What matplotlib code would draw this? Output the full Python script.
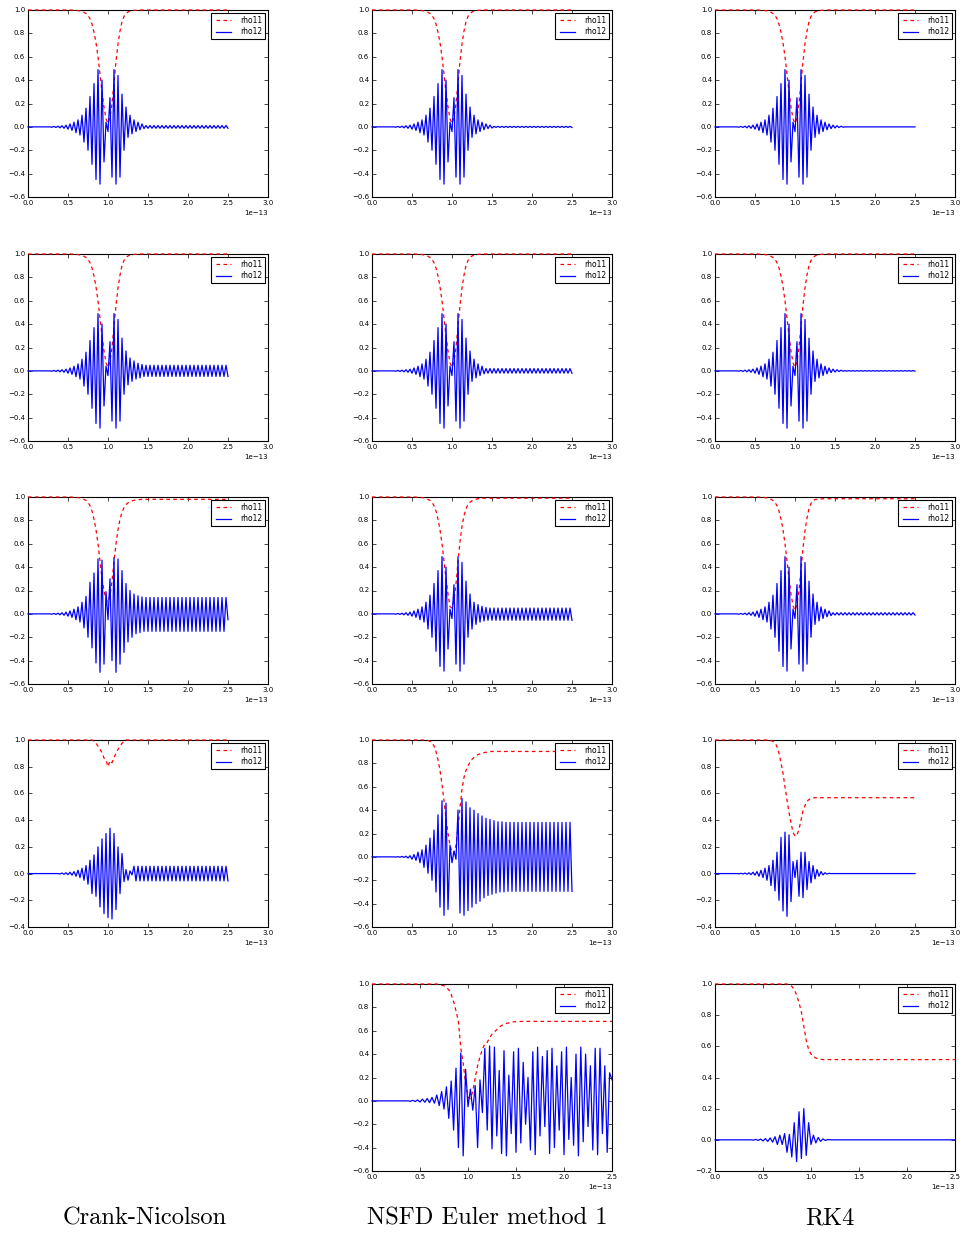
#!/usr/bin/env python3
"""
rho11 / rho12 pour trois schemas (Crank-Nicolson, NSFD Euler, RK4)
"""

import numpy as np
import matplotlib
matplotlib.use("Agg")
import matplotlib.pyplot as plt

# grille temporelle (unite 1e-13 s), pas = demi-periode de la porteuse
t_step = 0.025
n_pts = 101
t = np.arange(n_pts) * t_step

# ---- rho12 : valeurs des extremums ----
# impulsion "ideale" de k=12 (t=0.30) a k=64 (t=1.60)
ideal12 = [-0.003, 0.004, -0.005, 0.006, -0.008, 0.010, -0.012, 0.015,
           -0.020, 0.025, -0.030, 0.040, -0.050, 0.060, -0.070, 0.100,
           -0.130, 0.160, -0.200, 0.260, -0.320, 0.370, -0.450, 0.490,
           -0.490, 0.400, -0.300, 0.040, -0.040, 0.250, -0.430, 0.490,
           -0.490, 0.440, -0.430, 0.280, -0.200, 0.170, -0.090, 0.100,
           -0.060, 0.060, -0.040, 0.040, -0.025, 0.025, -0.015, 0.015,
           -0.010, 0.010, -0.006, 0.006, -0.003]
# rho11 ideal de k=22 (t=0.55) a k=55
ideal11 = [0.999, 0.998, 0.997, 0.995, 0.992, 0.988, 0.98, 0.97, 0.955, 0.925,
           0.88, 0.81, 0.72, 0.60, 0.45, 0.30, 0.17, 0.07, 0.03, 0.08,
           0.20, 0.38, 0.56, 0.71, 0.82, 0.90, 0.945, 0.97, 0.983, 0.99,
           0.995, 0.997, 0.998, 0.999]

# Crank-Nicolson
cn2_decay = [-0.12, 0.11, -0.09, 0.085, -0.07, 0.065, -0.06, 0.055]
cn3_mid = [-0.12, 0.15, -0.20, 0.27, -0.29, 0.35, -0.42, 0.47, -0.50, 0.46,
           -0.43, 0.19, -0.05, 0.30, -0.40, 0.48, -0.50, 0.47, -0.43, 0.37,
           -0.33, 0.26, -0.24, 0.20, -0.20, 0.17, -0.17, 0.155, -0.16, 0.145]
cn3_end = -0.05
cn3_rho11 = [0.20, 0.12, 0.10, 0.16, 0.28, 0.45, 0.60, 0.72, 0.81, 0.87,
             0.91, 0.935, 0.95, 0.96, 0.967, 0.972, 0.975, 0.977, 0.978]
cn4_rho12 = [-0.003, 0.004, -0.005, 0.006, -0.008, 0.010, -0.012, 0.015,
             -0.020, 0.025, -0.030, 0.040, -0.050, 0.060, -0.080, 0.100,
             -0.150, 0.140, -0.170, 0.200, -0.250, 0.260, -0.300, 0.300,
             -0.330, 0.340, -0.340, 0.300, -0.270, 0.200, -0.150, 0.150,
             -0.060, 0.030, -0.050, 0.020, -0.010]
cn4_rho11 = [0.99, 0.975, 0.955, 0.93, 0.905, 0.865, 0.85, 0.80, 0.845, 0.83,
             0.87, 0.90, 0.93, 0.955, 0.975, 0.99]

# NSFD Euler methode 1
nsfd3_decay = [-0.13, 0.10, -0.09, 0.08, -0.07, 0.065, -0.06, 0.055]
nsfd3_rho11 = [0.06, 0.05, 0.12, 0.26, 0.44, 0.62, 0.75, 0.84, 0.90, 0.935,
               0.955, 0.968, 0.976, 0.981, 0.985, 0.987, 0.989]
nsfd4_rho12 = [-0.002, 0.002, -0.003, 0.004, -0.005, 0.006, -0.01, 0.01,
               -0.02, 0.02, -0.03, 0.04, -0.05, 0.06, -0.09, 0.10,
               -0.14, 0.16, -0.20, 0.23, -0.30, 0.36, -0.43,
               0.48, -0.50, 0.46, -0.45, 0.10, -0.05, 0.05, -0.02,
               0.40, -0.48, 0.50, -0.50, 0.47, -0.46, 0.42, -0.43, 0.40, -0.40,
               0.37, -0.38, 0.35, -0.35, 0.33, -0.33, 0.32, -0.32, 0.31, -0.31,
               0.30, -0.30, 0.30, -0.30]
nsfd4_rho11 = [0.995, 0.99, 0.975, 0.95, 0.90, 0.83, 0.74, 0.62, 0.48, 0.33,
               0.20, 0.10, 0.04, 0.03, 0.10, 0.25, 0.42, 0.58, 0.68, 0.74,
               0.78, 0.81, 0.835, 0.85, 0.865, 0.875, 0.882, 0.888, 0.892,
               0.895, 0.898, 0.90]
nsfd5_rho12 = [-0.003, 0.005, -0.006, 0.008, -0.01, 0.015, -0.012, 0.02,
               -0.015, 0.03, -0.02, 0.05,
               -0.04, 0.08, -0.07, 0.12, -0.15, 0.17, -0.25, 0.28,
               -0.40, 0.41, -0.47, 0.27, -0.05, 0.10, -0.08, 0.13,
               -0.40, 0.18, -0.10, 0.45, -0.25, 0.47, -0.41, 0.46, -0.30, 0.26, -0.45, 0.43,
               -0.47, 0.22, -0.28, 0.42, -0.44, 0.45, -0.36, 0.33, -0.20, 0.20, -0.42, 0.42,
               -0.46, 0.46, -0.30, 0.38, -0.22, 0.43, -0.45, 0.45, -0.40, 0.30, -0.25, 0.42,
               -0.46, 0.46, -0.33, 0.20, -0.38, 0.40, -0.47, 0.46, -0.35, 0.40, -0.22, 0.30,
               -0.42, 0.45, -0.46, 0.45, -0.28, 0.30, -0.44, 0.24, 0.18]
nsfd5_rho11 = [0.995, 0.99, 0.985, 0.97, 0.95, 0.91, 0.85, 0.77, 0.68, 0.45,
               0.32, 0.15, 0.03, 0.02, 0.08, 0.20, 0.30, 0.38, 0.44, 0.49,
               0.50, 0.54, 0.57, 0.59, 0.61, 0.63, 0.645, 0.655, 0.662, 0.668,
               0.672, 0.676, 0.678]

# RK4
rk3_rho11 = [0.978, 0.981, 0.983, 0.984]
rk4_rho12 = [-0.002, 0.002, -0.003, 0.004, -0.005, 0.006, -0.008, 0.01,
             -0.012, 0.015, -0.02, 0.025, -0.03, 0.04, -0.05, 0.06,
             -0.09, 0.10, -0.13, 0.16, -0.20, 0.27, -0.28, 0.31, -0.32, 0.29,
             -0.21, 0.09, -0.03, 0.10, -0.17, 0.16, -0.18, 0.16, -0.12, 0.09,
             -0.07, 0.06, -0.04, 0.03, -0.02, 0.015, -0.01, 0.006, -0.004, 0.002]
rk4_rho11 = [0.995, 0.99, 0.98, 0.95, 0.90, 0.83, 0.75, 0.65, 0.55, 0.46,
             0.38, 0.31, 0.28, 0.29, 0.33, 0.40, 0.47, 0.51, 0.54, 0.555,
             0.562, 0.566]
rk5_rho12 = [-0.002, 0.003, -0.004, 0.005, -0.007, 0.008, -0.01, 0.012, -0.015,
             0.02, -0.03, 0.03, -0.03, 0.04, -0.08, 0.035, -0.11, 0.11, -0.14,
             0.18, -0.12, 0.20, -0.10, 0.11, -0.03, 0.03, -0.02, 0.015, -0.01,
             0.006, -0.004, 0.002]
rk5_rho11 = [0.995, 0.985, 0.965, 0.93, 0.88, 0.82, 0.73, 0.64, 0.58, 0.55,
             0.535, 0.525, 0.52, 0.517]

col_titles = ["Crank-Nicolson", "NSFD Euler method 1", "RK4"]


def series(start, body, pre, tail):
    """pre avant start, puis body, puis tail=(pos, neg) selon la parite"""
    vals = [pre] * start + list(body)
    while len(vals) < n_pts:
        k = len(vals)
        vals.append(tail[0] if k % 2 else tail[1])
    return np.array(vals[:n_pts])


def flat11(start, body, final):
    return series(start, body, 1.0, (final, final))


cn3 = series(12, ideal12[:16] + cn3_mid, 0.0, (0.14, -0.15))
cn3[-1] = cn3_end

panels = {
    # (col, row): (rho11, rho12, xmax, ymin)
    (0, 0): (flat11(22, ideal11, 1.0), series(12, ideal12[:47], 0.0, (0.012, -0.012)), 3.0, -0.6),
    (0, 1): (flat11(22, ideal11, 1.0), series(12, ideal12[:38] + cn2_decay, 0.0, (0.048, -0.048)), 3.0, -0.6),
    (0, 2): (flat11(22, ideal11[:16] + cn3_rho11, 0.98), cn3, 3.0, -0.6),
    (0, 3): (flat11(33, cn4_rho11, 1.0), series(16, cn4_rho12, 0.0, (0.055, -0.055)), 3.0, -0.4),
    (1, 0): (flat11(22, ideal11, 1.0), series(12, ideal12[:49], 0.0, (0.005, -0.005)), 3.0, -0.6),
    (1, 1): (flat11(22, ideal11, 1.0), series(12, ideal12[:45], 0.0, (0.02, -0.02)), 3.0, -0.6),
    (1, 2): (flat11(22, ideal11[:17] + nsfd3_rho11, 0.99), series(12, ideal12[:38] + nsfd3_decay, 0.0, (0.05, -0.055)), 3.0, -0.6),
    (1, 3): (flat11(28, nsfd4_rho11, 0.902), series(12, nsfd4_rho12, 0.0, (0.295, -0.295)), 3.0, -0.6),
    (1, 4): (flat11(28, nsfd5_rho11, 0.68), series(16, nsfd5_rho12, 0.0, (0.0, 0.0)), 2.5, -0.6),
    (2, 0): (flat11(22, ideal11, 1.0), series(12, ideal12, 0.0, (0.0, 0.0)), 3.0, -0.6),
    (2, 1): (flat11(22, ideal11, 1.0), series(12, ideal12, 0.0, (0.002, -0.002)), 3.0, -0.6),
    (2, 2): (flat11(22, ideal11[:28] + rk3_rho11, 0.985), series(12, ideal12[:47], 0.0, (0.01, -0.01)), 3.0, -0.6),
    (2, 3): (flat11(28, rk4_rho11, 0.568), series(12, rk4_rho12, 0.0, (0.0, 0.0)), 3.0, -0.4),
    (2, 4): (flat11(31, rk5_rho11, 0.515), series(16, rk5_rho12, 0.0, (0.0, 0.0)), 2.5, -0.2),
}

plt.style.use("classic")
plt.rcParams.update({
    "figure.facecolor": "white",
    "savefig.facecolor": "white",
    "xtick.labelsize": 5,
    "ytick.labelsize": 5,
    "xtick.major.size": 3,
    "ytick.major.size": 3,
    "xtick.major.pad": 2,
    "ytick.major.pad": 2,
    "axes.linewidth": 0.8,
})

W, H = 966, 1233
fig = plt.figure(figsize=(W / 100, H / 100), dpi=100)

col_left = [28, 372, 715]
row_top = [10, 254, 497, 740, 984]
ax_w, ax_h = 240, 187
title_x = [145, 487, 830]

for (c, r), (r11, r12, xmax, ymin) in panels.items():
    ax = fig.add_axes([col_left[c] / W, 1 - (row_top[r] + ax_h) / H, ax_w / W, ax_h / H])
    ax.plot(t * 1e-13, r11, "r--", lw=0.9, dashes=(2.6, 2.4), label="rho11",
            zorder=3, clip_on=False)
    ax.plot(t * 1e-13, r12, "b-", lw=0.9, label="rho12", zorder=3, clip_on=False)
    ax.set_xlim(0, xmax * 1e-13)
    ax.set_ylim(ymin, 1.0)
    ax.set_xticks(np.arange(0, xmax + 0.01, 0.5) * 1e-13)
    ax.set_yticks(np.arange(ymin, 1.01, 0.2))
    ax.xaxis.get_offset_text().set_fontsize(5)
    leg = ax.legend(loc="upper right", fontsize=5.5, handlelength=2.6,
                    borderaxespad=0.4, borderpad=0.4, labelspacing=0.3)
    leg.get_frame().set_linewidth(0.8)
    leg.set_zorder(5)

for i, title in enumerate(col_titles):
    fig.text(title_x[i] / W, 1 - 1218 / H, title, ha="center", va="center",
             fontsize=17.6, family=["cmr10", "DejaVu Serif"])

fig.savefig("out.png", dpi=100)
plt.close(fig)
